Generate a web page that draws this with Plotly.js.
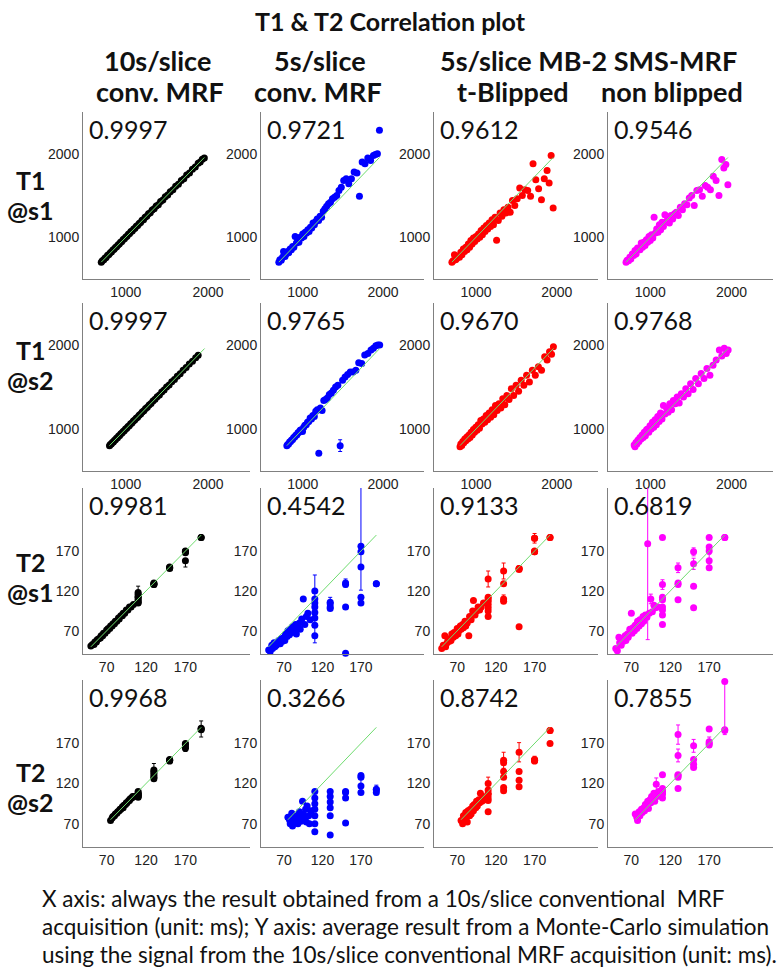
<!DOCTYPE html>
<html><head><meta charset="utf-8">
<script src="https://cdn.plot.ly/plotly-3.0.1.min.js"></script>
<style>html,body{margin:0;padding:0;background:#fff}#chart{width:780px;height:976px}</style>
</head><body><div id="chart"></div>
<script>
// ---------------- DATA ----------------
const headLine1 = ['10s/slice', '5s/slice', '5s/slice MB-2 SMS-MRF'];
const headLine2 = ['conv. MRF', 'conv. MRF', 't-Blipped', 'non blipped'];
const rowLabelTop = ['T1', 'T1', 'T2', 'T2'];
const rowLabelBottom = ['@s1', '@s2', '@s1', '@s2'];
const t1Ticks = [1000, 2000];
const t2Ticks = [70, 120, 170];
const corrRow1 = ['0.9997', '0.9721', '0.9612', '0.9546'];
const corrRow2 = ['0.9997', '0.9765', '0.9670', '0.9768'];
const corrRow3 = ['0.9981', '0.4542', '0.9133', '0.6819'];
const corrRow4 = ['0.9968', '0.3266', '0.8742', '0.7855'];
const captionLines = [
  'X axis: always the result obtained from a 10s/slice conventional  MRF',
  'acquisition (unit: ms); Y axis: average result from a Monte-Carlo simulation',
  'using the signal from the 10s/slice conventional MRF acquisition (unit: ms).'
];

// T1 @ slice 1
const t1s1_x = [702,715,733,748,761,779,795,812,826,843,858,874,889,905,921,936,952,968,984,1000,1015,1031,1047,1063,1079,1096,1112,1128,1145,1162,1180,1198,1216,1235,1255,1276,1298,1321,1345,1370,1396,1423,1451,1480,1510,1541,1573,1606,1640,1675,1706,1740,1775,1810,1845,1880,1905,1930,1955];
const t1s1_conv10 = [700,718,730,752,758,783,792,815,824,846,855,878,886,908,918,940,949,972,981,1004,1012,1035,1044,1068,1075,1100,1108,1133,1140,1166,1176,1203,1211,1240,1250,1281,1293,1326,1340,1375,1390,1428,1446,1485,1505,1546,1568,1611,1635,1680,1701,1745,1770,1815,1840,1885,1900,1934,1950];
const t1s1_conv5 = [700,730,725,760,830,770,800,830,815,860,850,890,880,1010,930,960,940,1000,990,1040,1010,1060,1050,1090,1070,1120,1110,1170,1150,1190,1220,1200,1250,1240,1310,1340,1370,1400,1420,1460,1480,1500,1560,1600,1680,1700,1640,1700,1780,1770,1490,1900,1880,1950,1920,1980,1990,2000,2280];
const t1s1_tblip = [700,720,790,730,745,770,760,820,790,860,830,880,850,920,880,960,920,990,950,1010,980,1040,1000,1080,1030,1110,1070,1140,1100,1170,1130,1210,1150,1240,965,1200,1290,1250,1330,1290,1360,1300,1440,1380,1460,1590,1500,1570,1560,1490,1880,1690,1580,1450,1700,1800,1650,1980,1350];
const t1s1_nonblip = [700,725,720,760,740,800,780,840,800,870,860,850,930,880,940,900,970,940,1010,960,1030,990,1240,1050,1100,1060,1150,1090,1180,1130,1270,1190,1230,1170,1260,1220,1280,1300,1260,1360,1330,1400,1390,1470,1500,1380,1560,1570,1490,1620,1600,1570,1730,1680,1500,1930,1830,1870,1630];

// T1 @ slice 2
const t1s2_x = [802,812,824,836,849,861,874,887,900,913,926,940,954,968,982,997,1012,1027,1043,1059,1075,1092,1109,1126,1144,1162,1181,1200,1220,1241,1262,1284,1307,1331,1356,1382,1409,1437,1466,1496,1527,1559,1592,1626,1661,1697,1734,1772,1811,1850,1880,1910,1935,1958];
const t1s2_conv10 = [800,815,822,839,846,864,871,890,897,916,923,943,951,971,979,1000,1009,1030,1040,1062,1072,1095,1106,1129,1141,1165,1178,1203,1217,1244,1259,1287,1304,1334,1353,1385,1406,1440,1463,1499,1524,1562,1589,1629,1658,1700,1731,1775,1808,1847,1877,null,null,null];
const t1s2_conv5 = [800,815,820,845,850,870,875,900,905,925,930,955,960,985,990,970,1020,1045,1050,1080,1090,1130,1120,1160,1150,1210,1230,710,1250,1220,1340,1350,1370,1410,1430,1460,1500,1520,802,1580,1620,1650,1680,1680,1700,1790,1780,1880,1900,1940,1960,1990,2000,2000];
const t1s2_tblip = [790,820,805,850,835,880,860,905,880,930,900,960,930,995,960,1020,985,1050,1010,1100,1060,1120,1080,1160,1110,1190,1140,1230,1170,1280,1220,1300,1250,1360,1290,1400,1350,1480,1400,1520,1450,1580,1520,1640,1560,1700,1640,1740,1700,1860,1820,1920,1890,1980];
const t1s2_nonblip = [810,790,840,820,870,850,900,880,930,900,960,920,990,1000,960,1040,1000,1080,1020,1110,1050,1150,1090,1190,1120,1280,1180,1250,1200,1300,1230,1340,1300,1380,1310,1420,1380,1480,1420,1540,1470,1600,1540,1660,1600,1720,1640,1760,1820,1940,1870,1960,1900,1940];
const t1s2_conv5_eIdx = [38];
const t1s2_conv5_eUp = [70];
const t1s2_conv5_eDn = [70];

// T2 @ slice 1
const t2s1_x = [50,52,54,55,57,58,60,62,63,65,66,68,70,71,72,74,75,77,78,80,81,83,85,86,88,90,91,93,95,97,99,101,104,110,110,110,110,110,110,110,110,130,130,130,130,150,150,150,150,170,170,170,170,170,190,190];
const t2s1_conv10 = [51,53,53,56,56,59,60,61,64,64,67,67,71,70,73,73,76,76,79,79,82,82,86,85,89,89,92,92,96,96,100,100,103,118,116,113,108,106,105,110,112,128,129,128,130,149,150,149,148,169,158,170,168,169,187,187];
const t2s1_conv5 = [46,44,52,48,55,50,52,55,58,54,60,57,62,58,66,63,70,65,72,68,75,70,78,66,74,80,72,85,110,78,88,92,84,120,110,105,100,93,86,77,64,106,104,100,98,130,128,100,42,176,169,150,112,105,129,129];
const t2s1_tblip = [48,52,64,50,55,60,57,58,66,62,68,64,73,66,70,76,72,78,74,82,76,80,64,88,84,95,108,90,95,100,96,100,105,135,112,107,103,99,95,88,110,145,129,110,107,148,75,148,147,186,169,170,186,169,187,187];
const t2s1_nonblip = [48,45,62,55,52,60,57,64,58,66,62,72,92,67,74,70,77,73,82,76,84,79,88,82,90,87,179,92,110,94,102,99,100,187,128,109,100,96,90,78,112,149,128,109,130,169,154,126,99,187,158,149,170,175,187,187];
const t2s1_conv10_eIdx = [33, 50, 49];
const t2s1_conv10_eUp = [8, 2, 3];
const t2s1_conv10_eDn = [3, 8, 3];
const t2s1_conv5_eIdx = [49, 36, 45, 41];
const t2s1_conv5_eUp = [85, 40, 5, 6];
const t2s1_conv5_eDn = [55, 45, 5, 6];
const t2s1_tblip_eIdx = [33, 41, 49, 43];
const t2s1_tblip_eUp = [10, 10, 6, 5];
const t2s1_tblip_eDn = [10, 10, 6, 5];
const t2s1_nonblip_eIdx = [26, 34, 41, 46, 50, 28, 45];
const t2s1_nonblip_eUp = [75, 6, 6, 7, 8, 6, 5];
const t2s1_nonblip_eDn = [120, 6, 6, 7, 8, 6, 5];

// T2 @ slice 2
const t2s2_x = [75,77,78,80,81,83,84,86,87,88,90,91,92,94,95,96,98,99,100,102,103,105,110,110,110,110,110,110,110,130,130,130,130,130,130,150,150,150,150,170,170,170,170,190,190,190];
const t2s2_conv10 = [74,77,79,80,82,83,85,86,88,88,91,90,93,94,96,96,99,99,101,102,104,104,108,104,106,110,103,107,105,137,128,130,133,126,135,149,150,148,149,169,164,166,170,188,189,187];
const t2s2_conv5 = [78,75,70,83,67,76,72,80,74,70,85,78,73,98,82,76,88,72,92,80,70,86,110,102,95,88,80,70,60,110,104,97,90,80,56,110,102,71,109,130,117,109,128,112,109,113];
const t2s2_tblip = [74,70,80,76,84,72,86,80,88,82,92,86,94,90,98,92,100,96,108,98,104,100,120,112,106,102,99,85,108,149,146,135,128,115,111,159,135,124,116,149,150,148,149,186,186,170];
const t2s2_nonblip = [82,78,74,85,80,88,84,90,86,94,92,98,89,100,96,104,101,108,98,119,104,110,131,112,108,102,110,114,107,181,155,131,114,130,128,167,150,144,140,188,172,170,168,247,186,187];
const t2s2_conv10_eIdx = [43, 29, 40];
const t2s2_conv10_eUp = [10, 8, 4];
const t2s2_conv10_eDn = [10, 8, 4];
const t2s2_conv5_eIdx = [39, 43];
const t2s2_conv5_eUp = [0, 6];
const t2s2_conv5_eDn = [13, 6];
const t2s2_tblip_eIdx = [35, 29, 22, 39];
const t2s2_tblip_eUp = [12, 10, 8, 5];
const t2s2_tblip_eDn = [12, 10, 8, 2];
const t2s2_nonblip_eIdx = [43, 29, 30, 35, 40, 19];
const t2s2_nonblip_eUp = [0, 12, 8, 8, 6, 8];
const t2s2_nonblip_eDn = [66, 12, 8, 8, 6, 8];

// ---------------- BUILD ----------------
const W = 780, H = 976;
const FONT = 'Lato, "Open Sans", sans-serif';
const TICKFONT = '"Liberation Sans", Arial, sans-serif';
const colors = ['#000000', '#0000ff', '#ff0000', '#ff00ff'];
const colPx = [[83, 250], [261, 424], [434, 598], [608, 773]];
const rowPx = [[112, 279], [303, 471], [488, 654], [680, 847]];

const none = {idx: [], up: [], dn: []};
const rows = [
  {x: t1s1_x, ys: [t1s1_conv10, t1s1_conv5, t1s1_tblip, t1s1_nonblip], err: [none, none, none, none], t1: true, corr: corrRow1},
  {x: t1s2_x, ys: [t1s2_conv10, t1s2_conv5, t1s2_tblip, t1s2_nonblip], err: [none, {idx: t1s2_conv5_eIdx, up: t1s2_conv5_eUp, dn: t1s2_conv5_eDn}, none, none], t1: true, corr: corrRow2},
  {x: t2s1_x, ys: [t2s1_conv10, t2s1_conv5, t2s1_tblip, t2s1_nonblip], err: [
    {idx: t2s1_conv10_eIdx, up: t2s1_conv10_eUp, dn: t2s1_conv10_eDn},
    {idx: t2s1_conv5_eIdx, up: t2s1_conv5_eUp, dn: t2s1_conv5_eDn},
    {idx: t2s1_tblip_eIdx, up: t2s1_tblip_eUp, dn: t2s1_tblip_eDn},
    {idx: t2s1_nonblip_eIdx, up: t2s1_nonblip_eUp, dn: t2s1_nonblip_eDn}], t1: false, corr: corrRow3},
  {x: t2s2_x, ys: [t2s2_conv10, t2s2_conv5, t2s2_tblip, t2s2_nonblip], err: [
    {idx: t2s2_conv10_eIdx, up: t2s2_conv10_eUp, dn: t2s2_conv10_eDn},
    {idx: t2s2_conv5_eIdx, up: t2s2_conv5_eUp, dn: t2s2_conv5_eDn},
    {idx: t2s2_tblip_eIdx, up: t2s2_tblip_eUp, dn: t2s2_tblip_eDn},
    {idx: t2s2_nonblip_eIdx, up: t2s2_nonblip_eUp, dn: t2s2_nonblip_eDn}], t1: false, corr: corrRow4}
];

const traces = [];
const layout = {
  width: W, height: H,
  margin: {l: 0, r: 0, t: 0, b: 0},
  paper_bgcolor: '#ffffff', plot_bgcolor: '#ffffff',
  showlegend: false,
  title: {text: 'T1 & T2 Correlation plot', x: 0.5, xanchor: 'center', y: 1 - 22 / H, yanchor: 'middle', yref: 'container',
          font: {family: FONT, size: 25, color: '#111', weight: 'bold'}},
  annotations: []
};

rows.forEach((row, r) => {
  const lo = Math.min(...row.x), hi = Math.max(...row.x);
  row.ys.forEach((ys, c) => {
    const n = r * 4 + c + 1;
    const sfx = n === 1 ? '' : String(n);
    const e = row.err[c];
    const up = row.x.map(() => 0), dn = row.x.map(() => 0);
    e.idx.forEach((k, j) => { up[k] = e.up[j]; dn[k] = e.dn[j]; });
    traces.push({
      type: 'scatter', mode: 'markers', x: row.x, y: ys, xaxis: 'x' + sfx, yaxis: 'y' + sfx,
      marker: {color: colors[c], size: 7, line: {width: 0}},
      error_y: {type: 'data', symmetric: false, array: up, arrayminus: dn, color: colors[c], thickness: 1, width: 2},
      cliponaxis: false, hoverinfo: 'skip'
    });
    traces.push({
      type: 'scatter', mode: 'lines', x: [lo, hi], y: [lo, hi], xaxis: 'x' + sfx, yaxis: 'y' + sfx,
      line: {color: '#6edc6e', width: 1}, hoverinfo: 'skip'
    });
    const axCommon = {showgrid: false, zeroline: false, showline: true, linecolor: '#808080', linewidth: 1,
      ticks: '', tickfont: {family: TICKFONT, size: 14, color: '#222'}, fixedrange: true};
    layout['xaxis' + sfx] = Object.assign({}, axCommon, {
      domain: [colPx[c][0] / W, colPx[c][1] / W], anchor: 'y' + sfx,
      range: row.t1 ? [480, 2510] : [40, 252], tickvals: row.t1 ? t1Ticks : t2Ticks, tickmode: 'array'
    });
    layout['yaxis' + sfx] = Object.assign({}, axCommon, {
      domain: [1 - rowPx[r][1] / H, 1 - rowPx[r][0] / H], anchor: 'x' + sfx,
      range: row.t1 ? [500, 2500] : [41, 249], tickvals: row.t1 ? t1Ticks : t2Ticks, tickmode: 'array'
    });
    layout.annotations.push({
      text: row.corr[c], xref: 'paper', yref: 'paper', x: (colPx[c][0] + 4) / W, xanchor: 'left',
      y: 1 - (rowPx[r][0] + 17) / H, yanchor: 'middle', showarrow: false,
      font: {family: FONT, size: 25, color: '#111'}
    });
  });
});

const HEADFONT = {family: FONT, size: 27, color: '#111', weight: 'bold'};
// column headers, first line
const head1X = [157, 320, 588];
headLine1.forEach((t, i) => {
  layout.annotations.push({text: t, xref: 'paper', yref: 'paper', x: head1X[i] / W, y: 1 - 60 / H,
    xanchor: 'center', yanchor: 'middle', showarrow: false, font: HEADFONT});
});
// column headers, second line
const head2X = [160, 318, 513, 672];
headLine2.forEach((t, i) => {
  layout.annotations.push({text: t, xref: 'paper', yref: 'paper', x: head2X[i] / W, y: 1 - 92 / H,
    xanchor: 'center', yanchor: 'middle', showarrow: false, font: HEADFONT});
});

// row labels
const rowLabelY = [180, 350, 562, 772];
const ROWFONT = {family: FONT, size: 25, color: '#111', weight: 'bold'};
rowLabelTop.forEach((t, i) => {
  layout.annotations.push({text: t, xref: 'paper', yref: 'paper', x: 31 / W, y: 1 - rowLabelY[i] / H,
    xanchor: 'center', yanchor: 'middle', showarrow: false, font: ROWFONT});
  layout.annotations.push({text: rowLabelBottom[i], xref: 'paper', yref: 'paper', x: 31 / W, y: 1 - (rowLabelY[i] + 30) / H,
    xanchor: 'center', yanchor: 'middle', showarrow: false, font: ROWFONT});
});

// caption
const capY = [898, 926, 954];
captionLines.forEach((t, i) => {
  layout.annotations.push({text: t, xref: 'paper', yref: 'paper', x: 40 / W, y: 1 - capY[i] / H,
    xanchor: 'left', yanchor: 'middle', showarrow: false, font: {family: FONT, size: 22.5, color: '#111'}});
});

Plotly.newPlot('chart', traces, layout, {staticPlot: true, displayModeBar: false});
</script>
</body></html>
